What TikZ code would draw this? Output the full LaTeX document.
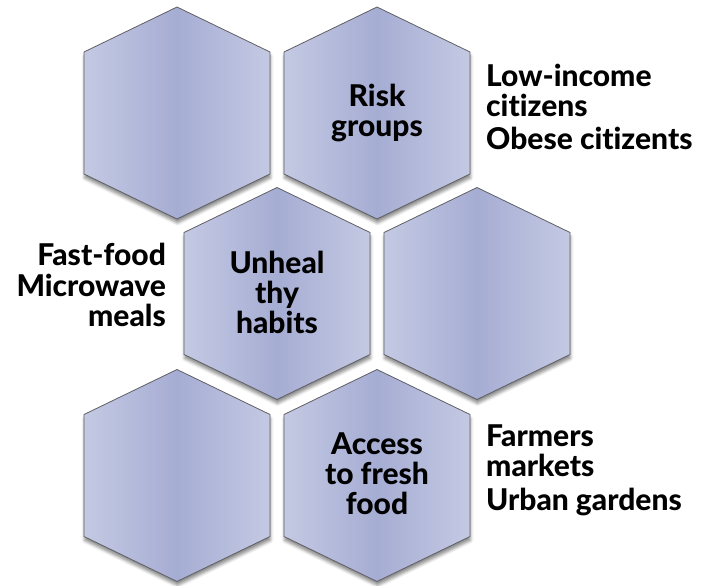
\documentclass[tikz,border=0pt]{standalone}
\usepackage{fontspec}
\setmainfont{Lato}[BoldFont={Lato Heavy}, Ligatures=NoCommon]
\usetikzlibrary{shadows.blur}
\definecolor{hexdark}{RGB}{166,173,211}
\definecolor{hexlight}{RGB}{196,201,227}
\definecolor{hexline}{RGB}{95,95,100}
\tikzset{
  hexpath/.style={draw=hexline, line width=0.8bp, line join=miter,
    left color=hexlight, right color=hexlight, middle color=hexdark,
    blur shadow={shadow xshift=0.5bp, shadow yshift=-4bp, shadow blur radius=3bp, shadow opacity=45}},
  hexa/.pic={\path[hexpath] (0,-106) -- (93,-61) -- (93,61) -- (0,106) -- (-93,61) -- (-93,-61) -- cycle;},
  hextext/.style={font=\fontsize{30bp}{30bp}\selectfont\bfseries, align=center, inner sep=0pt, anchor=base},
  sidetext/.style={font=\fontsize{30bp}{30bp}\selectfont\bfseries, inner sep=0pt}
}
\begin{document}
\begin{tikzpicture}[x=1bp, y=-1bp]
\useasboundingbox (0,0) rectangle (710,586);
\pic (h1) at (177,113) {hexa};
\pic (h2) at (377,113) {hexa};
\pic (h3) at (277,293.5) {hexa};
\pic (h4) at (477,293.5) {hexa};
\pic (h5) at (177,475.5) {hexa};
\pic (h6) at (377,475.5) {hexa};
\node[hextext] (risk) at (377,137) {Risk\\groups};
\node[hextext] (unhealthy) at (277,333.3) {Unheal\\thy\\habits};
\node[hextext] (access) at (377,514) {Access\\to fresh\\food};
\node[sidetext, align=left, anchor=base west] (lowinc) at (486,116.7) {Low-income\\citizens};
\node[sidetext, align=left, anchor=base west] (obese) at (486,150) {Obese citizents};
\node[sidetext, align=right, anchor=base east] (fast) at (166,265) {Fast-food};
\node[sidetext, align=right, anchor=base east] (micro) at (166,326.7) {Microwave\\meals};
\node[sidetext, align=left, anchor=base west] (farmers) at (486,476.7) {Farmers\\markets};
\node[sidetext, align=left, anchor=base west] (urban) at (486,510) {Urban gardens};
\end{tikzpicture}
\end{document}
